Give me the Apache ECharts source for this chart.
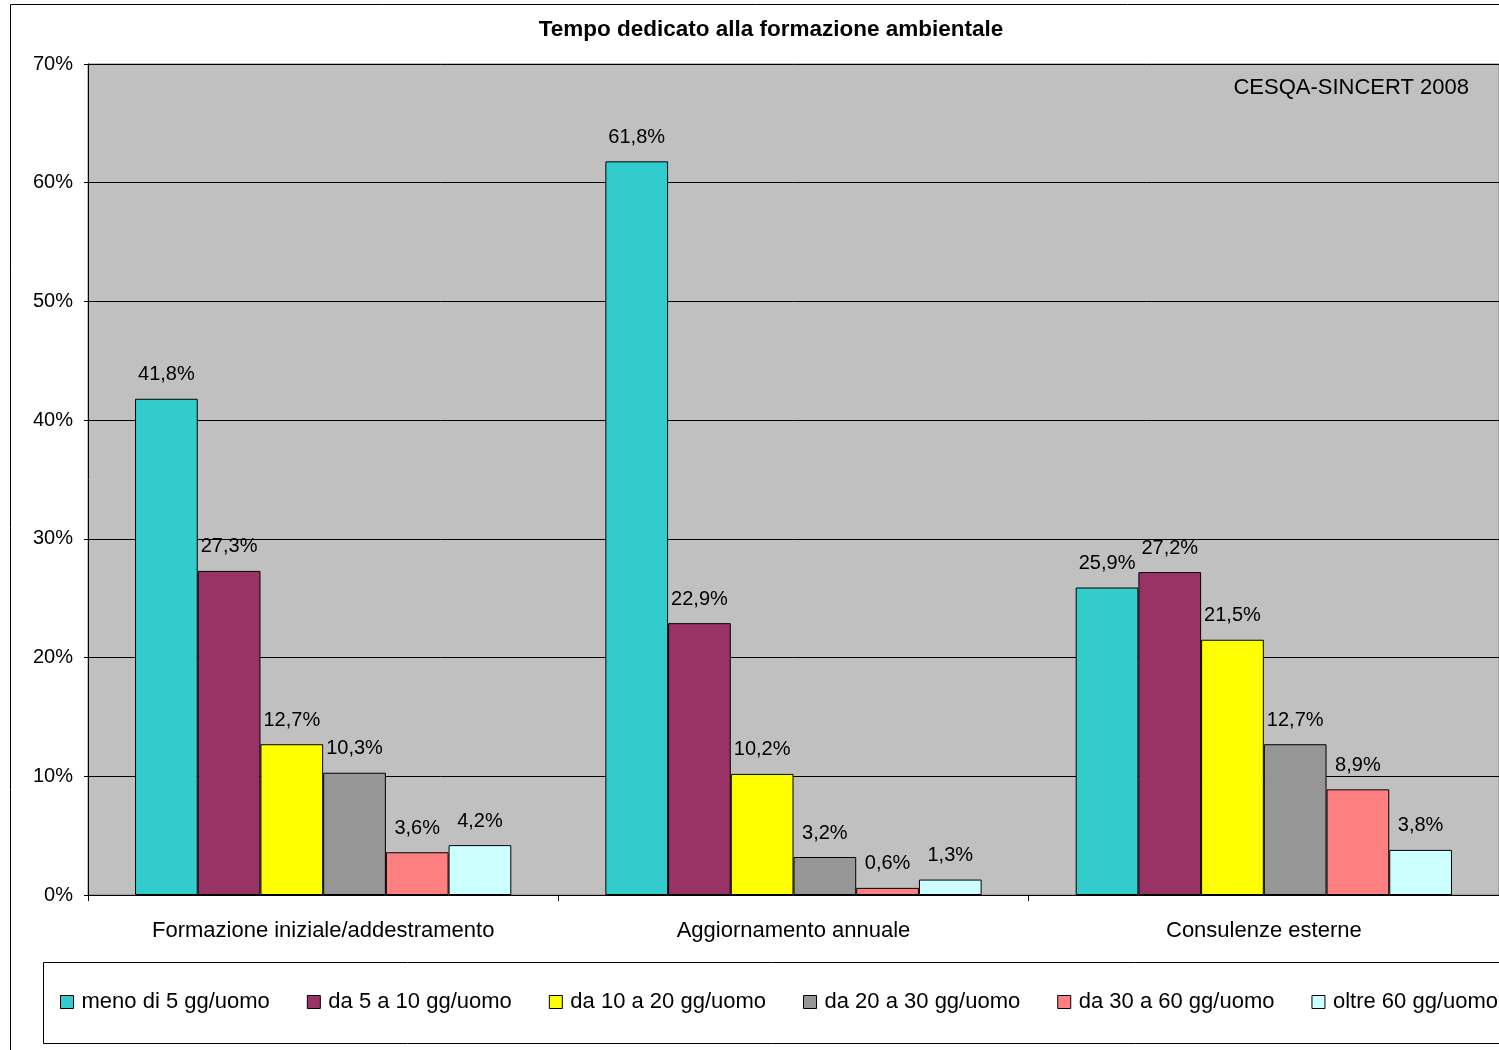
<!DOCTYPE html>
<html>
<head>
<meta charset="utf-8">
<script src="https://cdn.jsdelivr.net/npm/echarts@6/dist/echarts.min.js"></script>
<style>
  html, body { margin: 0; padding: 0; background: #fff; }
  #chart { width: 1499px; height: 1050px; }
</style>
</head>
<body>
<div id="chart"></div>
<script>
// Training time categories and shares (%) per duration band
const categories = ['Formazione iniziale/addestramento', 'Aggiornamento annuale', 'Consulenze esterne'];
const seriesNames = ['meno di 5 gg/uomo', 'da 5 a 10 gg/uomo', 'da 10 a 20 gg/uomo', 'da 20 a 30 gg/uomo', 'da 30 a 60 gg/uomo', 'oltre 60 gg/uomo'];
const meno5 = [41.8, 61.8, 25.9];
const da5a10 = [27.3, 22.9, 27.2];
const da10a20 = [12.7, 10.2, 21.5];
const da20a30 = [10.3, 3.2, 12.7];
const da30a60 = [3.6, 0.6, 8.9];
const oltre60 = [4.2, 1.3, 3.8];
const seriesValues = [meno5, da5a10, da10a20, da20a30, da30a60, oltre60];
const seriesColors = ['#33CCCC', '#993366', '#FFFF00', '#969696', '#FF8080', '#CCFFFF'];

const FONT = 'Liberation Sans, Arial, sans-serif';

const chart = echarts.init(document.getElementById('chart'));

const series = seriesNames.map((name, i) => ({
  name: name,
  type: 'bar',
  data: seriesValues[i],
  barGap: '0%',
  barCategoryGap: '20%',
  itemStyle: { color: seriesColors[i], borderColor: '#000', borderWidth: 1 },
  label: {
    show: true,
    position: 'top',
    distance: 14,
    fontFamily: FONT,
    fontSize: 20,
    color: '#000',
    formatter: p => p.value.toFixed(1).replace('.', ',') + '%'
  }
}));

chart.setOption({
  backgroundColor: '#fff',
  animation: false,
  title: {
    text: 'Tempo dedicato alla formazione ambientale',
    left: 766,
    top: 13,
    textAlign: 'center',
    textStyle: { fontFamily: FONT, fontSize: 22.5, fontWeight: 'bold', color: '#000' }
  },
  graphic: [
    {
      type: 'rect',
      shape: { x: 10.5, y: 4.5, width: 1600, height: 1100 },
      style: { fill: 'none', stroke: '#000', lineWidth: 1 },
      z: -1
    },
    {
      type: 'rect',
      shape: { x: 43.5, y: 962.5, width: 1600, height: 81 },
      style: { fill: 'none', stroke: '#000', lineWidth: 1 },
      z: -1
    },
    {
      type: 'text',
      right: 30,
      top: 77,
      style: { text: 'CESQA-SINCERT 2008', font: '22px Liberation Sans, Arial, sans-serif', fill: '#000' },
      z: 10
    }
  ],
  legend: {
    data: seriesNames,
    left: 55,
    top: 986,
    width: 1800,
    itemWidth: 13,
    itemHeight: 13,
    itemGap: 37,
    icon: 'rect',
    textStyle: { fontFamily: FONT, fontSize: 22, color: '#000', padding: [0, 0, 0, 3] },
    itemStyle: { borderColor: '#000', borderWidth: 1 }
  },
  grid: {
    left: 88,
    top: 64,
    width: 1413,
    height: 831,
    show: true,
    backgroundColor: '#C0C0C0',
    borderColor: '#808080',
    borderWidth: 1
  },
  xAxis: {
    type: 'category',
    data: categories,
    boundaryGap: true,
    axisLine: { lineStyle: { color: '#000', width: 1 } },
    axisTick: { show: true, length: 6, lineStyle: { color: '#000' } },
    axisLabel: { fontFamily: FONT, fontSize: 22, color: '#000', margin: 25 }
  },
  yAxis: {
    type: 'value',
    min: 0,
    max: 70,
    interval: 10,
    axisLine: { show: true, lineStyle: { color: '#000', width: 1 } },
    axisTick: { show: true, length: 4, lineStyle: { color: '#000' } },
    axisLabel: { fontFamily: FONT, fontSize: 20, color: '#000', margin: 15, formatter: '{value}%' },
    splitLine: { show: true, lineStyle: { color: '#000', width: 1 } }
  },
  series: series
});
</script>
</body>
</html>
